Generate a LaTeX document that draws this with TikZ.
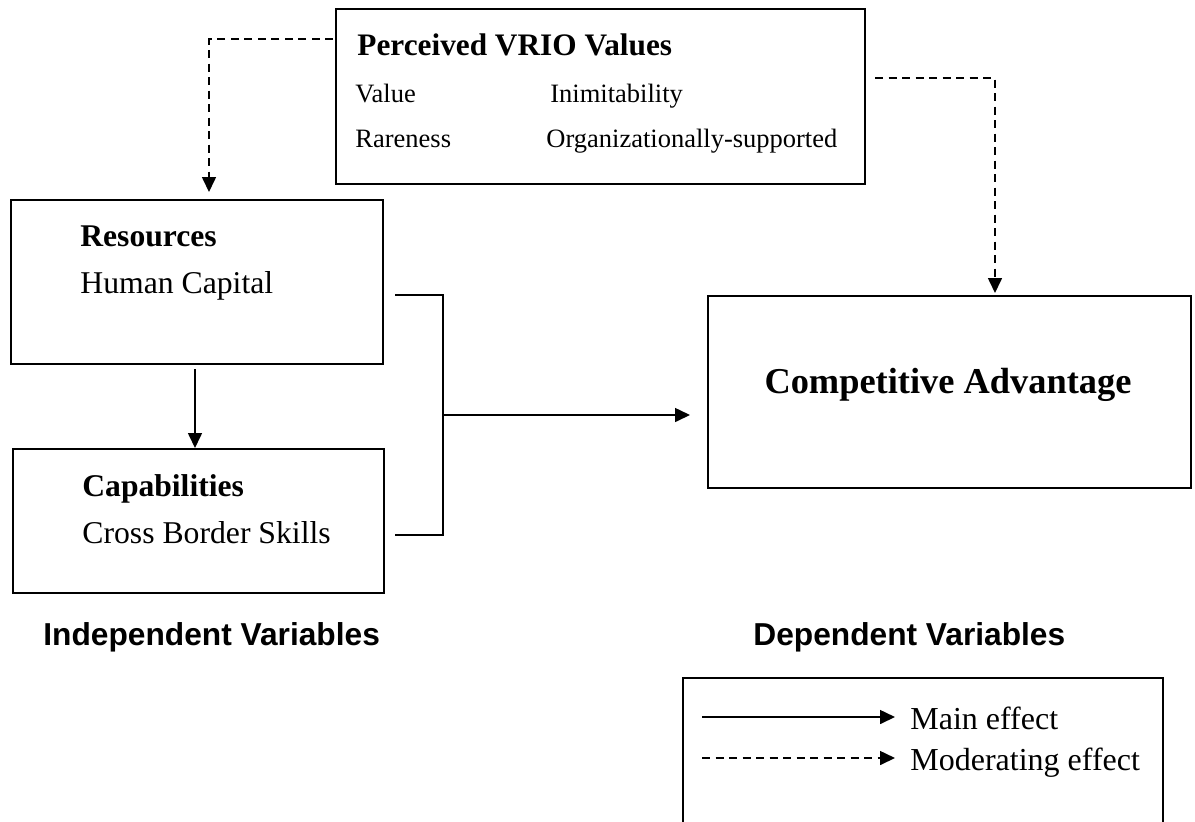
\documentclass[tikz,border=0pt]{standalone}
\usepackage{fontspec}
\setmainfont{Liberation Serif}
\setsansfont{Liberation Sans}
\usetikzlibrary{arrows.meta}
\begin{document}
\begin{tikzpicture}[x=0.5pt,y=-0.5pt,
  box/.style={draw, line width=1pt, inner sep=0pt, anchor=north west},
  txt/.style={inner sep=0pt, anchor=base west},
  bigtxt/.style={txt, font=\fontsize{15.85pt}{19pt}\selectfont},
  bigbold/.style={txt, font=\fontsize{15.8pt}{19pt}\selectfont\bfseries},
  smalltxt/.style={txt, font=\fontsize{13.25pt}{16pt}\selectfont},
  vartxt/.style={txt, font=\fontsize{15.85pt}{19pt}\selectfont\sffamily\bfseries},
  legtxt/.style={txt, font=\fontsize{16pt}{19pt}\selectfont},
  conn/.style={line width=0.8pt},
  mainline/.style={conn, -{Triangle[length=7.5pt,width=7pt]}},
  modline/.style={conn, dash pattern=on 4pt off 2.75pt, -{Triangle[length=7.5pt,width=7pt]}},
]
\useasboundingbox (0,0) rectangle (1195,821);

% boxes
\node[box, minimum width=264.5pt, minimum height=87.5pt] (vrio) at (335,8) {};
\node[box, minimum width=186pt, minimum height=82pt] (res) at (10,199) {};
\node[box, minimum width=185.5pt, minimum height=72pt] (cap) at (12,448) {};
\node[box, minimum width=241.5pt, minimum height=96pt] (ca) at (707,295) {};

% texts
\node[txt, font=\fontsize{15.65pt}{19pt}\selectfont\bfseries] (vriot) at (357,55) {Perceived VRIO Values};
\node[smalltxt] (val) at (355,102) {Value};
\node[smalltxt] (inim) at (550,102) {Inimitability};
\node[smalltxt] (rare) at (355,147) {Rareness};
\node[smalltxt] (org) at (546,147) {Organizationally-supported};

\node[bigbold] (rest) at (80,246) {Resources};
\node[bigtxt] (hc) at (80,293) {Human Capital};
\node[bigbold] (capt) at (82,496) {Capabilities};
\node[bigtxt] (cbs) at (82,543) {Cross Border Skills};

\node[inner sep=0pt, anchor=base, font=\fontsize{18.2pt}{22pt}\selectfont\bfseries] (cat) at (948,393) {Competitive Advantage};

\node[vartxt] (iv) at (43,645) {Independent Variables};
\node[vartxt] (dv) at (753,645) {Dependent Variables};

% moderating connectors
\coordinate (dl0) at (333,39);
\coordinate (dl1) at (209,39);
\draw[modline, shorten >=3.5pt] (dl0) -- (dl1) -- (dl1 |- res.north);
\coordinate (dr0) at (875,78);
\coordinate (dr1) at (995,78);
\draw[modline, shorten >=1pt] (dr0) -- (dr1) -- (dr1 |- ca.north);

% main connectors
\coordinate (rc) at (195,369);
\draw[mainline] (rc) -- (rc |- cap.north);
\coordinate (b1) at (395,295);
\coordinate (b2) at (443,295);
\coordinate (b3) at (443,535);
\coordinate (b4) at (395,535);
\coordinate (bm) at (443,415);
\draw[conn] (b1) -- (b2) -- (b3) -- (b4);
\draw[mainline, shorten >=8.5pt] (bm) -- (bm -| ca.west);

% legend
\coordinate (lg1) at (683,830);
\coordinate (lg2) at (683,678);
\coordinate (lg3) at (1163,678);
\coordinate (lg4) at (1163,830);
\draw[line width=1pt] (lg1) -- (lg2) -- (lg3) -- (lg4);
\coordinate (l1a) at (702,717);
\coordinate (l1b) at (895,717);
\coordinate (l2a) at (702,758);
\coordinate (l2b) at (895,758);
\draw[mainline] (l1a) -- (l1b);
\draw[modline] (l2a) -- (l2b);
\node[legtxt] (me) at (910,729) {Main effect};
\node[legtxt] (mo) at (910,770) {Moderating effect};
\end{tikzpicture}
\end{document}
